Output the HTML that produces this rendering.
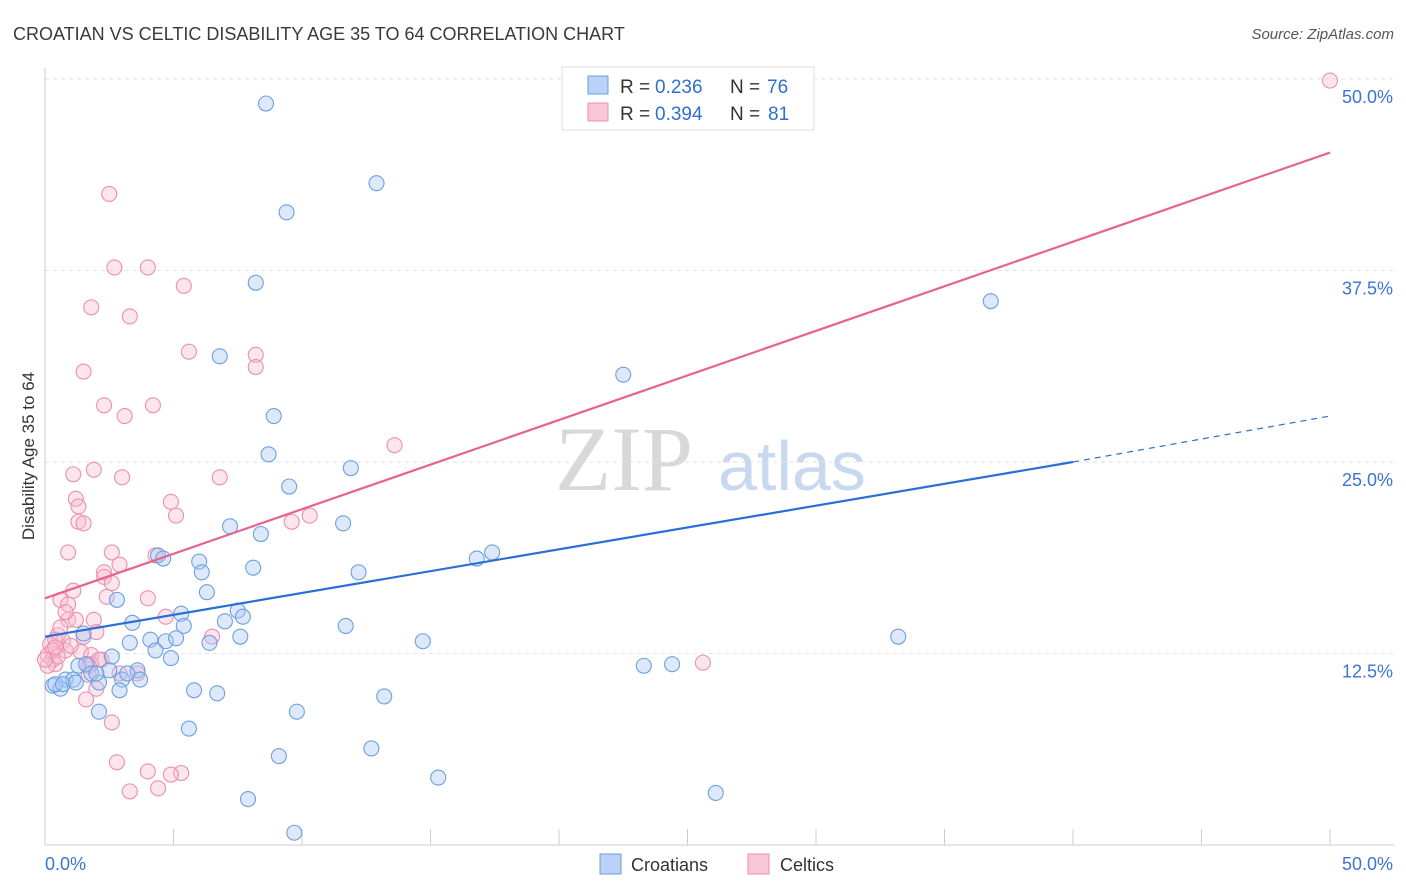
<!DOCTYPE html>
<html><head><meta charset="utf-8"><style>
body{margin:0;background:#fff;font-family:"Liberation Sans",sans-serif}
svg{display:block}
</style></head><body>
<svg id="c" width="1406" height="892">
<text x="13" y="40" font-size="18" fill="#3a3a3a">CROATIAN VS CELTIC DISABILITY AGE 35 TO 64 CORRELATION CHART</text>
<text x="1394" y="39" font-size="15" fill="#555" font-style="italic" text-anchor="end">Source: ZipAtlas.com</text>
<text x="34" y="456" font-size="17" fill="#333" text-anchor="middle" transform="rotate(-90 34 456)">Disability Age 35 to 64</text>
<text x="555" y="490" font-size="92" fill="#d8d8d8" font-family="Liberation Serif,serif">ZIP</text>
<text x="718" y="490" font-size="70" fill="#c8d8ee">atlas</text>
<g id="grid"></g><g id="ticks"></g>
<g id="pink"></g><g id="blue"></g><g id="lines"></g>
<g>
<rect x="562" y="67" width="252" height="63" fill="#fff" stroke="#ddd"/>
<rect x="588" y="76" width="20" height="18" fill="#b9d2f5" stroke="#6c9fe0"/>
<rect x="588" y="103" width="20" height="18" fill="#f8c8d7" stroke="#ec8fae"/>
<text x="620" y="93" font-size="19" fill="#333">R =</text>
<text x="655" y="93" font-size="19" fill="#2f6fd1">0.236</text>
<text x="730" y="93" font-size="19" fill="#333">N =</text>
<text x="767" y="93" font-size="19" fill="#2f6fd1">76</text>
<text x="620" y="120" font-size="19" fill="#333">R =</text>
<text x="655" y="120" font-size="19" fill="#2f6fd1">0.394</text>
<text x="730" y="120" font-size="19" fill="#333">N =</text>
<text x="768" y="120" font-size="19" fill="#2f6fd1">81</text>
</g>
<g>
<rect x="600" y="854" width="21" height="20" fill="#b9d2f5" stroke="#6c9fe0"/>
<text x="631" y="871" font-size="18" fill="#333">Croatians</text>
<rect x="748" y="854" width="21" height="20" fill="#f8c8d7" stroke="#ec8fae"/>
<text x="780" y="871" font-size="18" fill="#333">Celtics</text>
</g>
</svg>
<script>
const blueX=[8.6,12.9,9.4,8.2,36.8,6.8,22.5,8.9,8.7,11.9,9.5,11.6,7.2,8.4,17.4,16.8,4.4,4.6,6.0,8.1,12.2,6.1,6.3,2.8,7.5,5.3,7.7,7.0,3.4,5.4,11.7,1.5,4.1,4.7,3.3,5.1,7.6,6.4,14.7,33.2,4.3,2.6,4.9,1.3,1.6,3.6,2.5,23.3,24.4,1.8,0.8,1.1,2.1,3.7,3.0,0.3,0.6,0.4,5.8,2.9,6.7,13.2,2.1,9.8,5.6,12.7,9.1,15.3,26.1,7.9,9.7,2.0,0.7,1.2,3.2];
const blueY=[48.4,43.2,41.3,36.7,35.5,31.9,30.7,28.0,25.5,24.6,23.4,21.0,20.8,20.3,19.1,18.7,18.9,18.7,18.5,18.1,17.8,17.8,16.5,16.0,15.3,15.1,14.9,14.6,14.5,14.3,14.3,13.8,13.4,13.3,13.2,13.5,13.6,13.2,13.3,13.6,12.7,12.3,12.2,11.7,11.8,11.4,11.4,11.7,11.8,11.2,10.8,10.8,10.6,10.8,10.8,10.4,10.2,10.5,10.1,10.1,9.9,9.7,8.7,8.7,7.6,6.3,5.8,4.4,3.4,3.0,0.8,11.2,10.5,10.6,11.2];
const pinkX=[50.0,2.5,2.7,4.0,5.4,1.8,3.3,5.6,8.2,8.2,1.5,2.3,4.2,3.1,13.6,1.9,1.1,3.0,6.8,1.2,1.3,4.9,5.1,9.6,10.3,1.3,1.5,0.9,2.6,4.3,2.3,2.9,2.3,2.6,1.1,2.4,4.0,0.6,0.9,4.7,6.5,0.9,1.2,1.9,2.0,0.5,1.5,0.7,0.2,0.4,0.8,0.1,0.3,1.4,1.8,2.2,2.9,3.6,0.4,0.1,1.7,25.6,2.0,1.6,2.6,2.8,4.0,5.3,4.9,3.3,4.4,0.3,0.5,0.0,1.0,1.8,0.8,2.1,0.4,0.6,1.7];
const pinkY=[49.9,42.5,37.7,37.7,36.5,35.1,34.5,32.2,32.0,31.2,30.9,28.7,28.7,28.0,26.1,24.5,24.2,24.0,24.0,22.6,22.1,22.4,21.5,21.1,21.5,21.1,21.0,19.1,19.1,18.9,17.8,18.3,17.5,17.1,16.6,16.2,16.1,16.0,15.7,14.9,13.6,14.7,14.7,14.7,13.9,13.7,13.6,13.3,13.1,13.4,12.7,12.4,12.1,12.6,12.4,12.1,11.2,11.2,11.8,11.7,11.1,11.9,10.2,9.5,8.0,5.4,4.8,4.7,4.6,3.5,3.7,12.7,12.3,12.1,13.0,11.8,15.2,12.1,12.9,14.2,11.7];
const yTicks=[12.5,25.0,37.5,50.0];
const xTicks=[0,5,10,15,20,25,30,35,40,45,50];
const blueFit=[13.6,25.0,28.0]; // at x=0,40,50
const pinkFit=[16.1,45.2];      // at x=0,50
const NS='http://www.w3.org/2000/svg';
const X=v=>45+v*25.7, Y=v=>845-v*15.32;
function mk(t,a,p){const e=document.createElementNS(NS,t);for(const k in a)e.setAttribute(k,a[k]);p.appendChild(e);return e;}
const g=document.getElementById('grid'),tk=document.getElementById('ticks');
yTicks.forEach(v=>{
 const l=mk('line',{x1:45,x2:1394,y1:Y(v),y2:Y(v),stroke:'#e2e2e2','stroke-dasharray':'4,4'},g);
 
 
 const t=mk('text',{x:1393,y:Y(v)+24,'font-size':18,fill:'#3b74d1','text-anchor':'end'},g);
 t.textContent=v.toFixed(1)+'%';
 
 
});
mk('line',{x1:45,x2:45,y1:68,y2:845,stroke:'#ccc'},g);
mk('line',{x1:45,x2:1394,y1:845,y2:845,stroke:'#ccc'},g);
xTicks.forEach(v=>{
 const l=mk('line',{x1:X(v),x2:X(v),y1:829,y2:845,stroke:'#ccc'},tk);
 
 
});
[[0,45,'start'],[50,1393,'end']].forEach(([v,x,a])=>{
 const t=mk('text',{x:x,y:870,'font-size':18,fill:'#3b74d1','text-anchor':a},tk);
 t.textContent=v.toFixed(1)+'%';
 
 
});
function pts(xs,ys,id,fill,stroke,name){
 const p=document.getElementById(id);
 xs.forEach((x,i)=>{
  const c=mk('circle',{cx:X(x),cy:Y(ys[i]),r:7.5,fill:fill,stroke:stroke,'stroke-width':1.1},p);
  
  
 });
}
pts(pinkX,pinkY,'pink','rgba(248,190,210,0.4)','#ec8fae','celtic-point');
pts(blueX,blueY,'blue','rgba(170,200,245,0.4)','#6c9fe0','croatian-point');
const L=document.getElementById('lines');
let a=mk('line',{x1:X(0),y1:Y(pinkFit[0]),x2:X(50),y2:Y(pinkFit[1]),stroke:'#e8628f','stroke-width':2.2},L);


a=mk('line',{x1:X(0),y1:Y(blueFit[0]),x2:X(40),y2:Y(blueFit[1]),stroke:'#2b6fd6','stroke-width':2.2},L);


a=mk('line',{x1:X(40),y1:Y(blueFit[1]),x2:X(50),y2:Y(blueFit[2]),stroke:'#2b6fd6','stroke-width':1.2,'stroke-dasharray':'6,5'},L);


</script>
</body></html>
